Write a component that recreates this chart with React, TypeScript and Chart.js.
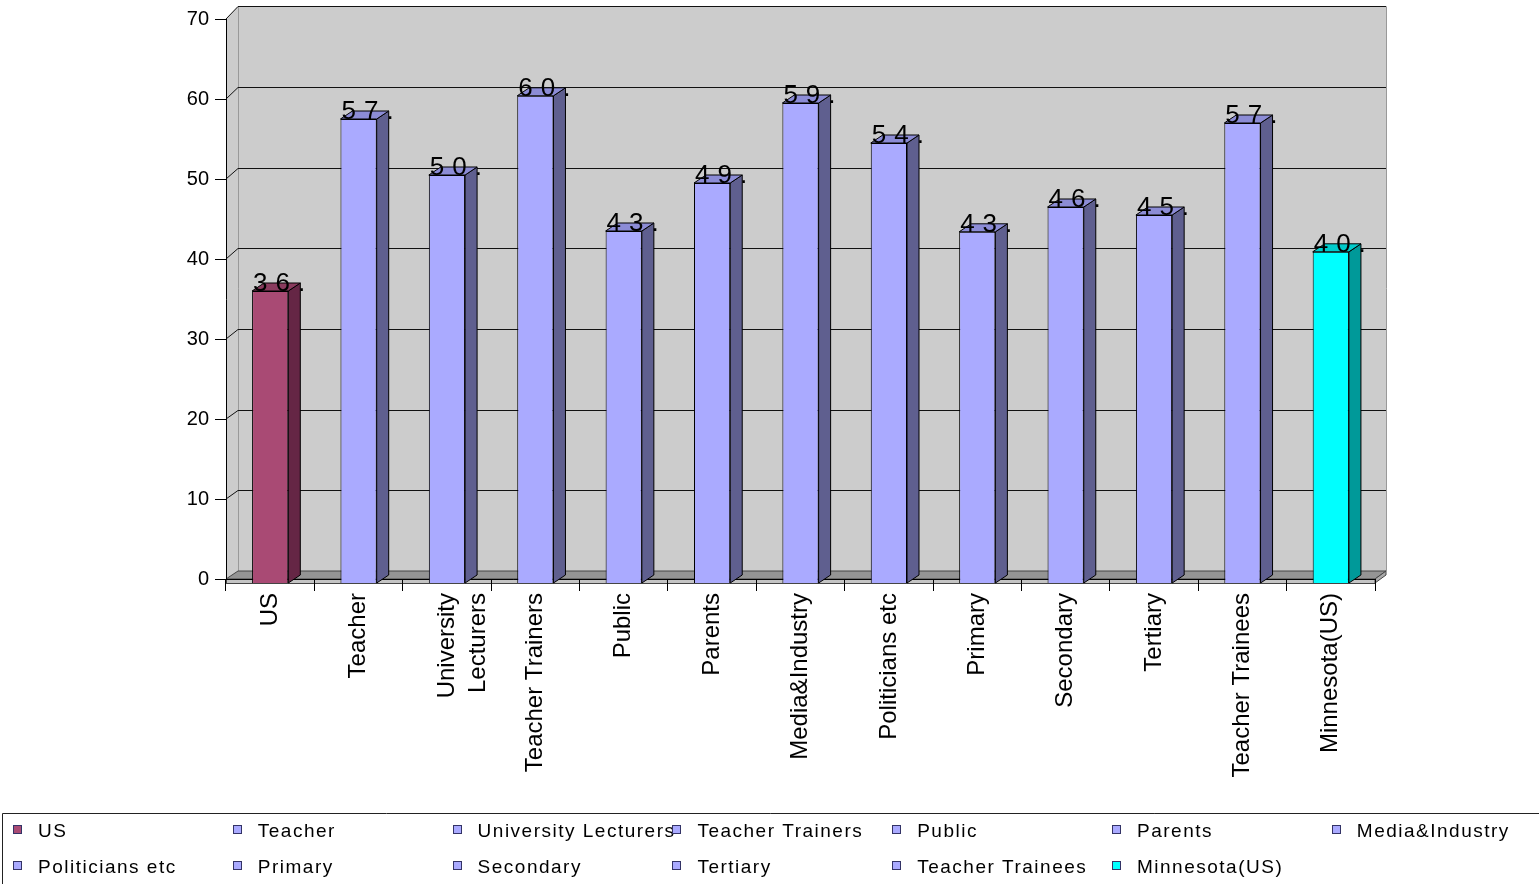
import React, { useEffect, useRef } from 'react';
import { Chart, registerables } from 'chart.js';

Chart.register(...registerables);

// ---- data ----
const categories: (string | string[])[] = [
  'US',
  'Teacher',
  ['University', 'Lecturers'],
  'Teacher Trainers',
  'Public',
  'Parents',
  'Media&Industry',
  'Politicians etc',
  'Primary',
  'Secondary',
  'Tertiary',
  'Teacher Trainees',
  'Minnesota(US)',
];
const legendLabels: string[] = [
  'US',
  'Teacher',
  'University Lecturers',
  'Teacher Trainers',
  'Public',
  'Parents',
  'Media&Industry',
  'Politicians etc',
  'Primary',
  'Secondary',
  'Tertiary',
  'Teacher Trainees',
  'Minnesota(US)',
];
const values: number[] = [36.0, 57.5, 50.5, 60.4, 43.5, 49.5, 59.5, 54.5, 43.4, 46.5, 45.5, 57.0, 40.9];
const yTicks: number[] = [0, 10, 20, 30, 40, 50, 60, 70];

// ---- styles ----
const MAROON = { front: '#a94a74', side: '#652645', top: '#8a3b5e' };
const LILAC = { front: '#aaaaff', side: '#5f5f8f', top: '#8c8cd6' };
const CYAN = { front: '#00ffff', side: '#009999', top: '#00cccc' };
const palette = [MAROON, LILAC, LILAC, LILAC, LILAC, LILAC, LILAC, LILAC, LILAC, LILAC, LILAC, LILAC, CYAN];

const BAR_DX = 12;
const BAR_DY = 8;
const WALL_DX = 12;

function backY(chart: any, v: number): number {
  const s = chart.scales.y;
  const bottom = s.getPixelForValue(0);
  const front = s.getPixelForValue(v);
  return bottom - 8 + (front - bottom) * 1.0083;
}

const wallsPlugin = {
  id: 'walls3d',
  beforeDraw(chart: any) {
    const { ctx, chartArea: ca } = chart;
    const bl = ca.left + WALL_DX;
    const br = ca.right + WALL_DX - 1;
    const bt = backY(chart, yTicks[yTicks.length - 1]);
    const bb = backY(chart, 0);
    ctx.save();
    // back wall
    ctx.fillStyle = '#cccccc';
    ctx.fillRect(bl, bt, br - bl, bb - bt);
    // left wall
    ctx.beginPath();
    ctx.moveTo(ca.left, ca.top);
    ctx.lineTo(bl, bt);
    ctx.lineTo(bl, bb);
    ctx.lineTo(ca.left, ca.bottom);
    ctx.closePath();
    ctx.fill();
    // wall edges
    ctx.lineWidth = 1;
    ctx.strokeStyle = '#999999';
    ctx.beginPath();
    ctx.moveTo(Math.round(bl) + 0.5, bt);
    ctx.lineTo(Math.round(bl) + 0.5, bb);
    ctx.moveTo(Math.round(br) + 0.5, bt);
    ctx.lineTo(Math.round(br) + 0.5, bb);
    ctx.stroke();
    // gridlines
    ctx.strokeStyle = '#111111';
    for (const v of yTicks) {
      if (v === 0) continue;
      const fy = chart.scales.y.getPixelForValue(v);
      const by = Math.round(backY(chart, v)) + 0.5;
      ctx.beginPath();
      ctx.moveTo(ca.left, fy);
      ctx.lineTo(bl, by);
      ctx.lineTo(br, by);
      ctx.stroke();
    }
    // floor top
    const fb = ca.bottom;
    ctx.fillStyle = '#949494';
    ctx.strokeStyle = '#444444';
    ctx.beginPath();
    ctx.moveTo(ca.left, fb);
    ctx.lineTo(bl, bb);
    ctx.lineTo(br, bb);
    ctx.lineTo(ca.right, fb);
    ctx.closePath();
    ctx.fill();
    ctx.stroke();
    // floor slab front
    ctx.fillStyle = '#c4c4c4';
    ctx.fillRect(ca.left, fb, ca.right - ca.left, 4);
    ctx.strokeRect(ca.left + 0.5, fb + 0.5, ca.right - ca.left, 4);
    ctx.beginPath();
    ctx.moveTo(ca.right, fb);
    ctx.lineTo(br, bb);
    ctx.lineTo(br, bb + 4);
    ctx.lineTo(ca.right, fb + 4);
    ctx.closePath();
    ctx.fillStyle = '#aaaaaa';
    ctx.fill();
    ctx.stroke();
    ctx.restore();
  },
};

const barsPlugin = {
  id: 'bars3d',
  afterDatasetsDraw(chart: any) {
    const { ctx } = chart;
    const meta = chart.getDatasetMeta(0);
    ctx.save();
    ctx.lineWidth = 1;
    ctx.strokeStyle = '#000000';
    meta.data.forEach((bar: any, i: number) => {
      const p = bar.getProps(['x', 'y', 'base', 'width'], true);
      const left = p.x - p.width / 2;
      const right = p.x + p.width / 2;
      const top = p.y;
      const base = p.base;
      const col = palette[i];
      // side face
      ctx.beginPath();
      ctx.moveTo(right, top);
      ctx.lineTo(right + BAR_DX, top - BAR_DY);
      ctx.lineTo(right + BAR_DX, base - BAR_DY);
      ctx.lineTo(right, base);
      ctx.closePath();
      ctx.fillStyle = col.side;
      ctx.fill();
      ctx.stroke();
      // top face
      ctx.beginPath();
      ctx.moveTo(left, top);
      ctx.lineTo(left + BAR_DX, top - BAR_DY);
      ctx.lineTo(right + BAR_DX, top - BAR_DY);
      ctx.lineTo(right, top);
      ctx.closePath();
      ctx.fillStyle = col.top;
      ctx.fill();
      ctx.stroke();
    });
    // value labels (clipped as in the original)
    meta.data.forEach((bar: any, i: number) => {
      const p = bar.getProps(['x', 'y', 'width'], true);
      const left = p.x - p.width / 2;
      const right = p.x + p.width / 2;
      ctx.save();
      ctx.beginPath();
      ctx.rect(left - 2, p.y - 40, right + BAR_DX + 4 - (left - 2), 50);
      ctx.clip();
      ctx.font = '26px "Liberation Sans", Arial, sans-serif';
      (ctx as any).letterSpacing = '8px';
      ctx.fillStyle = '#000000';
      ctx.textBaseline = 'alphabetic';
      ctx.textAlign = 'left';
      ctx.fillText(values[i].toFixed(1), left + 1, p.y);
      ctx.restore();
    });
    ctx.restore();
  },
};

const legendPlugin = {
  id: 'gridLegend',
  afterDraw(chart: any) {
    const { ctx } = chart;
    ctx.save();
    ctx.strokeStyle = '#222222';
    ctx.lineWidth = 1;
    ctx.beginPath();
    ctx.moveTo(2.5, 884);
    ctx.lineTo(2.5, 813.5);
    ctx.lineTo(1539, 813.5);
    ctx.stroke();
    ctx.font = '19px "Liberation Sans", Arial, sans-serif';
    (ctx as any).letterSpacing = '1.5px';
    ctx.textBaseline = 'alphabetic';
    ctx.textAlign = 'left';
    legendLabels.forEach((lab, i) => {
      const col = i % 7;
      const row = Math.floor(i / 7);
      const x0 = 10 + col * 219.8;
      const base = row === 0 ? 837 : 873;
      ctx.fillStyle = palette[i].front;
      ctx.fillRect(Math.round(x0 + 3), base - 11, 8, 8);
      ctx.strokeStyle = '#333366';
      ctx.strokeRect(Math.round(x0 + 3) + 0.5, base - 11.5, 8, 8);
      ctx.fillStyle = '#000000';
      ctx.fillText(lab, x0 + 28, base);
    });
    ctx.restore();
  },
};

export default function App() {
  const ref = useRef<HTMLCanvasElement | null>(null);
  useEffect(() => {
    if (!ref.current) return;
    const chart = new Chart(ref.current, {
      type: 'bar',
      data: {
        labels: categories,
        datasets: [
          {
            data: values,
            backgroundColor: palette.map((c) => c.front),
            borderColor: '#000000',
            borderWidth: 1,
            base: -0.5,
            clip: false as any,
            categoryPercentage: 1,
            barPercentage: 0.41,
          } as any,
        ],
      },
      options: {
        responsive: false,
        animation: false,
        devicePixelRatio: 1,
        layout: { padding: { left: 2, top: 19, right: 164, bottom: 0 } },
        plugins: {
          legend: { display: false },
          tooltip: { enabled: false },
        },
        scales: {
          x: {
            offset: true,
            grid: {
              offset: true,
              drawOnChartArea: false,
              drawTicks: true,
              tickLength: 12,
              color: '#000000',
            },
            border: { display: true, color: '#000000' },
            ticks: {
              autoSkip: false,
              maxRotation: 90,
              minRotation: 90,
              padding: 2,
              color: '#000000',
              font: { family: '"Liberation Sans", Arial, sans-serif', size: 24, lineHeight: 1.3 },
            },
            afterFit: (s: any) => {
              s.height = 305;
            },
          },
          y: {
            min: 0,
            max: 70,
            ticks: {
              stepSize: 10,
              padding: 6,
              color: '#000000',
              font: { family: '"Liberation Sans", Arial, sans-serif', size: 20 },
            },
            grid: {
              drawOnChartArea: false,
              drawTicks: true,
              tickLength: 11,
              color: '#000000',
            },
            border: { display: true, color: '#000000' },
            afterFit: (s: any) => {
              s.width = 224;
            },
          },
        },
      },
      plugins: [wallsPlugin, barsPlugin, legendPlugin],
    });
    return () => chart.destroy();
  }, []);
  return (
    <div style={{ position: 'fixed', left: 0, top: 0, width: 1539, height: 884, background: '#ffffff' }}>
      <canvas ref={ref} width={1539} height={884} style={{ width: 1539, height: 884, display: 'block' }} />
    </div>
  );
}
